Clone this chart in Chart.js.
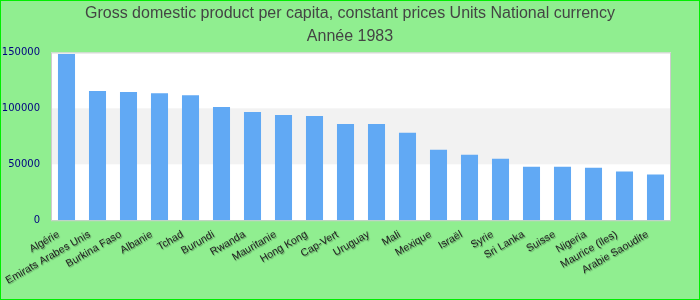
<!DOCTYPE html>
<html>
<head>
<meta charset="utf-8">
<script src="https://cdn.jsdelivr.net/npm/chart.js@4.4.1/dist/chart.umd.min.js"></script>
<style>
  body { margin: 0; background: #90ee90; }
  #wrap { width: 698px; height: 298px; border: 1px solid #00ee00; background: #90ee90; }
</style>
</head>
<body>
<div id="wrap"><canvas id="gdp-chart" width="698" height="298"></canvas></div>
<script>
const pays = ['Algérie', 'Emirats Arabes Unis', 'Burkina Faso', 'Albanie', 'Tchad', 'Burundi', 'Rwanda',
    'Mauritanie', 'Hong Kong', 'Cap-Vert', 'Uruguay', 'Mali', 'Mexique', 'Israël', 'Syrie', 'Sri Lanka',
    'Suisse', 'Nigeria', 'Maurice (îles)', 'Arabie Saoudite'];
const valeurs = [148500, 115400, 114500, 113600, 111800, 101200, 96800, 94100, 93200, 86100, 86100,
    78100, 63000, 58600, 55000, 47900, 47900, 47000, 43500, 40800];
const titre = ['Gross domestic product per capita, constant prices Units National currency', 'Année 1983'];
const bandes = [[50000, 100000]];

// fond blanc + bande grise dans la zone du graphique
const fondPlugin = {
    id: 'fond',
    beforeDatasetsDraw(chart) {
        const { ctx, chartArea: a, scales: { y } } = chart;
        ctx.save();
        ctx.fillStyle = '#ffffff';
        ctx.fillRect(a.left, a.top, a.right - a.left, a.bottom - a.top);
        ctx.fillStyle = '#f2f2f2';
        bandes.forEach(b => {
            const y1 = y.getPixelForValue(b[1]), y0 = y.getPixelForValue(b[0]);
            ctx.fillRect(a.left, y1, a.right - a.left, y0 - y1);
        });
        ctx.strokeStyle = '#cccccc';
        ctx.lineWidth = 1;
        ctx.strokeRect(a.left + 0.5, a.top + 0.5, a.right - a.left - 1, a.bottom - a.top);
        ctx.restore();
    }
};

// petite ombre sous les étiquettes de l'axe x
const ombrePlugin = {
    id: 'ombre',
    beforeDraw(chart) {
        const s = chart.scales.x;
        if (s._ombre) return;
        const orig = s.drawLabels.bind(s);
        s.drawLabels = function (area) {
            const ctx = this.ctx;
            ctx.save();
            ctx.shadowColor = 'rgba(0,0,0,0.35)';
            ctx.shadowOffsetX = 1;
            ctx.shadowOffsetY = 1;
            ctx.shadowBlur = 1;
            orig(area);
            ctx.restore();
        };
        s._ombre = true;
    }
};

const ctx = document.getElementById('gdp-chart').getContext('2d');
new Chart(ctx, {
    type: 'bar',
    data: {
        labels: pays,
        datasets: [{
            data: valeurs,
            backgroundColor: '#61a9f4',
            barPercentage: 0.55,
            categoryPercentage: 1
        }]
    },
    options: {
        responsive: false,
        animation: false,
        layout: { padding: { left: 0, right: 0, top: 0, bottom: 4 } },
        plugins: {
            legend: { display: false },
            tooltip: { enabled: false },
            title: {
                display: true,
                text: titre,
                color: '#444444',
                font: { family: 'Liberation Sans', size: 16, weight: 'normal', lineHeight: 1.45 },
                padding: { top: 1, bottom: 4 }
            }
        },
        scales: {
            x: {
                grid: { display: false, drawTicks: false },
                border: { display: false },
                ticks: {
                    color: '#222222',
                    font: { family: 'Liberation Sans', size: 10.5 },
                    minRotation: 30,
                    maxRotation: 30,
                    autoSkip: false,
                    padding: 8,
                    labelOffset: -8
                }
            },
            y: {
                min: 0,
                max: 150000,
                grid: { display: false, drawTicks: false },
                border: { display: false },
                afterFit: s => { s.width = 50; },
                ticks: {
                    stepSize: 50000,
                    color: '#000080',
                    font: { family: 'DejaVu Sans', size: 10 },
                    padding: 11,
                    callback: v => String(v)
                }
            },
            marge: {
                position: 'right',
                grid: { display: false, drawTicks: false },
                border: { display: false },
                ticks: { display: false },
                afterFit: s => { s.width = 28; }
            }
        }
    },
    plugins: [fondPlugin, ombrePlugin]
});
</script>
</body>
</html>
